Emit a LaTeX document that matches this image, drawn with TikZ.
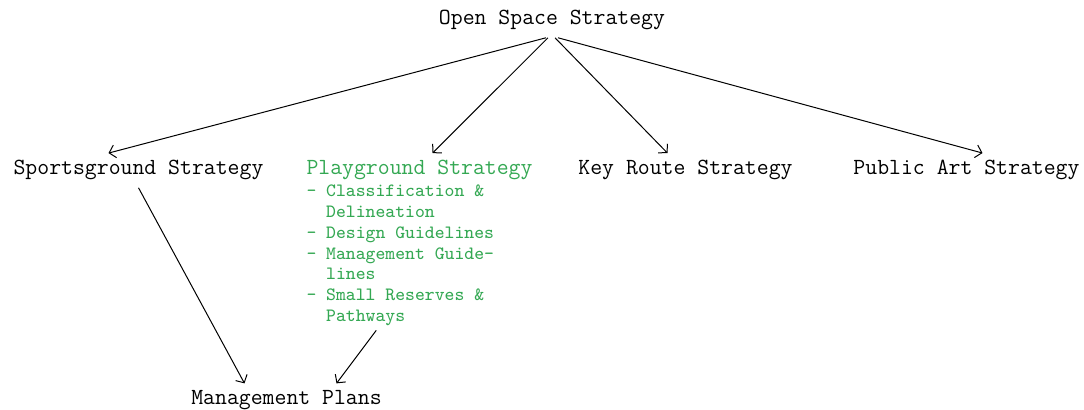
\documentclass[tikz,border=0pt]{standalone}
\usepackage{fontspec}
\usetikzlibrary{arrows.meta, positioning}
\definecolor{playgreen}{RGB}{52,168,83}
\newcommand{\hang}{\hspace*{1.05em}}

\begin{document}
\begin{tikzpicture}[x=1pt, y=1pt, line width=0.5pt, >={Straight Barb[length=3pt,width=6.5pt]},
    every node/.style={font=\ttfamily\fontsize{11.55}{13.8}\selectfont, inner sep=3.5pt},
    items/.style={font=\ttfamily\fontsize{9.4}{10.4}\selectfont, inner sep=0pt, align=left, text=playgreen}]
    \useasboundingbox (0,0) rectangle (542,205);
    \node[anchor=base] (open) at (276,192.5) {Open Space Strategy};
    \node[anchor=base] (sport) at (69.25,117.5) {Sportsground Strategy};
    \node[anchor=base west, text=playgreen] (play) at (149.5,117.5) {Playground Strategy};
    \node[items, anchor=north west] (playitems) at ([xshift=3.5pt,yshift=-4.8pt]play.base west)
        {- Classification \&\\ \hang Delineation\\ - Design Guidelines\\ - Management Guide-\\ \hang lines\\ - Small Reserves \&\\ \hang Pathways};
    \node[anchor=base] (key) at (342.75,117.5) {Key Route Strategy};
    \node[anchor=base] (public) at (483.25,117.5) {Public Art Strategy};
    \node[anchor=base] (mgmt) at (143.25,2.5) {Management Plans};
    \draw[->] ([xshift=-3pt]open.south) -- ([xshift=-15pt]sport.north);
    \draw[->] ([xshift=-2pt]open.south) -- ([xshift=6.5pt]play.north);
    \draw[->] ([xshift=1.5pt]open.south) -- ([xshift=-9pt]key.north);
    \draw[->] ([xshift=3pt]open.south) -- ([xshift=8pt]public.north);
    \draw[->] (sport.south) -- ([xshift=-21pt]mgmt.north);
    \draw[->] ([xshift=-12pt,yshift=-2pt]playitems.south) -- ([xshift=25pt]mgmt.north);
\end{tikzpicture}
\end{document}
